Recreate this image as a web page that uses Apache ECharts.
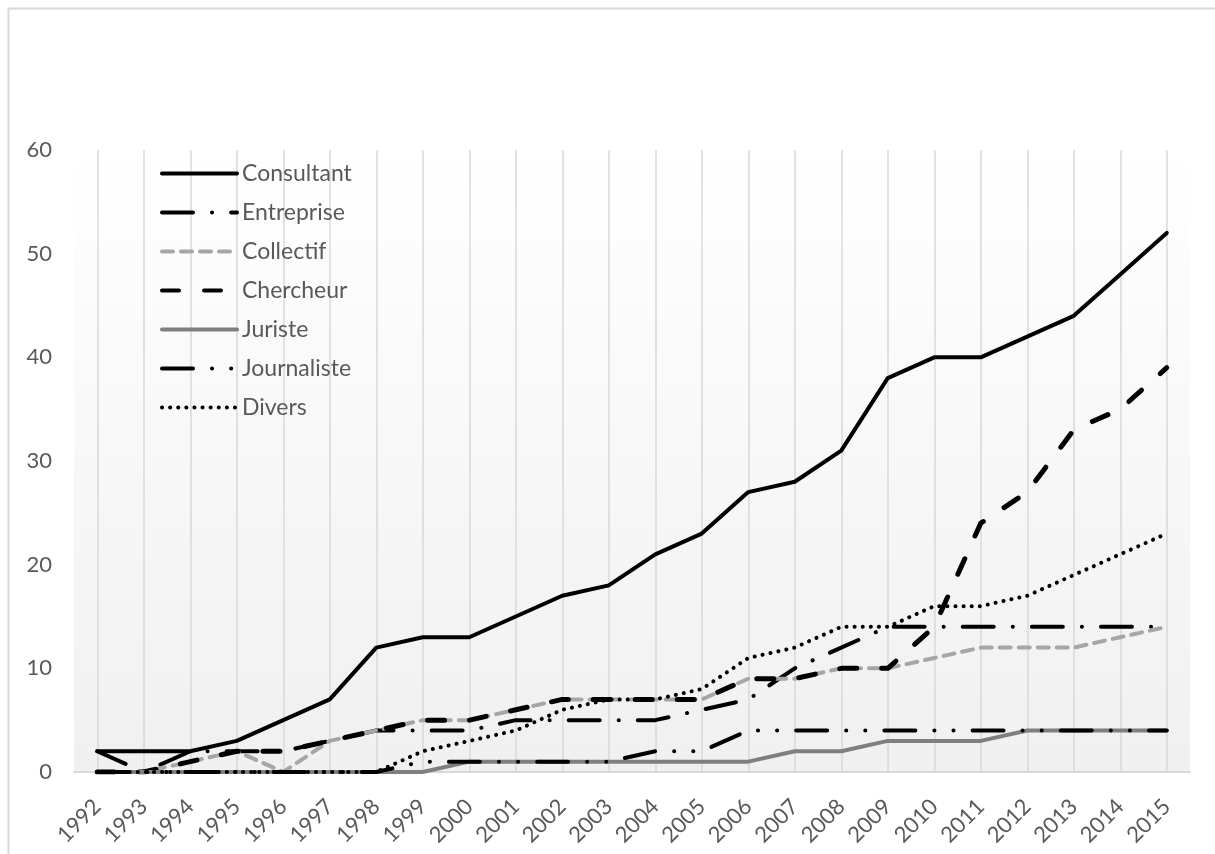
<!DOCTYPE html>
<html>
<head>
<meta charset="utf-8">
<script src="https://cdn.jsdelivr.net/npm/echarts@6/dist/echarts.min.js"></script>
<style>
html,body{margin:0;padding:0;background:#fff;}
#chart{width:1215px;height:854px;}
</style>
</head>
<body>
<div id="chart"></div>
<script>
const years = ['1992','1993','1994','1995','1996','1997','1998','1999','2000','2001','2002','2003','2004','2005','2006','2007','2008','2009','2010','2011','2012','2013','2014','2015'];
const yTicks = [0, 10, 20, 30, 40, 50, 60];
const consultant  = [2,2,2,3,5,7,12,13,13,15,17,18,21,23,27,28,31,38,40,40,42,44,48,52];
const entreprise  = [2,0,2,2,2,3,4,4,4,5,5,5,5,6,7,10,12,14,14,14,14,14,14,14];
const collectif   = [0,0,1,2,0,3,4,5,5,6,7,7,7,7,9,9,10,10,11,12,12,12,13,14];
const chercheur   = [0,0,1,2,2,3,4,5,5,6,7,7,7,7,9,9,10,10,14,24,27,33,35,39];
const juriste     = [0,0,0,0,0,0,0,0,1,1,1,1,1,1,1,2,2,3,3,3,4,4,4,4];
const journaliste = [0,0,0,0,0,0,0,1,1,1,1,1,2,2,4,4,4,4,4,4,4,4,4,4];
const divers      = [0,0,0,0,0,0,0,2,3,4,6,7,7,8,11,12,14,14,16,16,17,19,21,23];

const FONT = 'Lato, "Open Sans", sans-serif';
const TXT = '#595959';

function line(name, data, color, width, type) {
  return {
    name: name, type: 'line', data: data,
    symbol: 'none', showSymbol: false,
    lineStyle: { color: color, width: width, type: type, cap: 'round', join: 'round' },
    itemStyle: { color: color },
    emphasis: { disabled: true }
  };
}

const chart = echarts.init(document.getElementById('chart'), null, { renderer: 'canvas' });
chart.setOption({
  animation: false,
  backgroundColor: '#ffffff',
  graphic: [{
    type: 'rect', silent: true, z: -10,
    shape: { x: 8.5, y: 8.5, width: 1400, height: 1000 },
    style: { fill: 'none', stroke: '#d9d9d9', lineWidth: 2 }
  }],
  grid: {
    left: 74, right: 25, top: 150, bottom: 82,
    show: true, borderWidth: 0,
    backgroundColor: new echarts.graphic.LinearGradient(0, 0, 0, 1, [
      { offset: 0, color: '#ffffff' },
      { offset: 1, color: '#f0f0f0' }
    ])
  },
  legend: {
    orient: 'vertical', left: 155, top: 157,
    itemWidth: 75, itemHeight: 14, itemGap: 16,
    textStyle: { fontFamily: FONT, fontSize: 23, color: TXT },
    itemStyle: { opacity: 0, borderWidth: 0 },
    lineStyle: { width: 4, opacity: 1 },
    data: ['Consultant','Entreprise','Collectif','Chercheur','Juriste','Journaliste','Divers']
  },
  xAxis: {
    type: 'category', data: years, boundaryGap: true,
    axisLine: { show: true, lineStyle: { color: '#d9d9d9', width: 2 } },
    axisTick: { show: false },
    axisLabel: { interval: 0, rotate: 45, margin: 31, fontFamily: FONT, fontSize: 22, color: TXT },
    splitLine: { show: true, interval: 0, alignWithLabel: true, lineStyle: { color: '#d9d9d9', width: 1.5 } }
  },
  yAxis: {
    type: 'value', min: yTicks[0], max: yTicks[yTicks.length - 1], interval: 10,
    axisLine: { show: false }, axisTick: { show: false },
    splitLine: { show: false },
    axisLabel: { margin: 22, fontFamily: FONT, fontSize: 22, color: TXT }
  },
  series: [
    line('Consultant', consultant, '#000000', 4, 'solid'),
    line('Entreprise', entreprise, '#000000', 4, [31, 19, 0.1, 19]),
    line('Collectif', collectif, '#a6a6a6', 4, [11, 8]),
    line('Chercheur', chercheur, '#000000', 5, [17, 25]),
    line('Juriste', juriste, '#7f7f7f', 4, 'solid'),
    line('Journaliste', journaliste, '#000000', 4, [31, 19, 0.1, 19, 0.1, 19]),
    line('Divers', divers, '#000000', 4, [0.1, 8])
  ]
});
</script>
</body>
</html>
